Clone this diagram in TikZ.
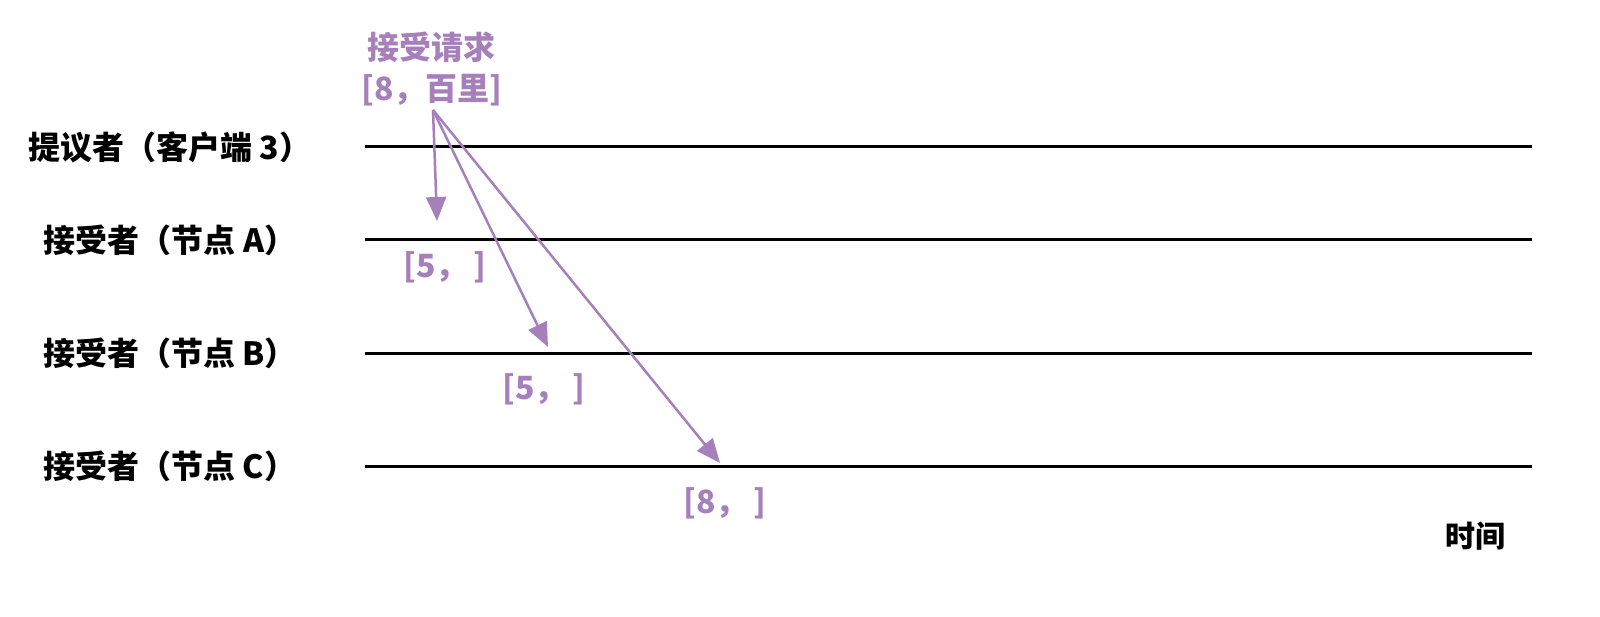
\documentclass[tikz,border=0pt]{standalone}
\usepackage{fontspec}
\setmainfont{Noto Sans CJK SC}
\usetikzlibrary{arrows.meta}
\definecolor{pur}{HTML}{A680BA}
\begin{document}
\begin{tikzpicture}[x=1pt,y=-1pt,
  lane/.style={line width=3pt,black},
  msg/.style={line width=2.5pt,pur,-{Triangle[length=24pt,width=20pt]}},
  who/.style={font=\fontsize{32}{35}\selectfont\bfseries,text=black,inner sep=0},
  tag/.style={font=\fontsize{32}{35}\selectfont\bfseries,text=pur,inner sep=0}]
\useasboundingbox (0,0) rectangle (1600,617);
\node[who] (lp) at (170,147) {提议者（客户端 3）};
\node[who] (la) at (170,240) {接受者（节点 A）};
\node[who] (lb) at (170,353) {接受者（节点 B）};
\node[who] (lc) at (170,466) {接受者（节点 C）};
\coordinate (p0) at (365,147); \coordinate (p1) at (1532,147);
\coordinate (a0) at (365,240); \coordinate (a1) at (1532,240);
\coordinate (b0) at (365,353); \coordinate (b1) at (1532,353);
\coordinate (c0) at (365,466); \coordinate (c1) at (1532,466);
\draw[lane] (p0) -- (p1);
\draw[lane] (a0) -- (a1);
\draw[lane] (b0) -- (b1);
\draw[lane] (c0) -- (c1);
\node[tag] (req) at (431,47) {接受请求};
\node[tag] (val) at (432,90) {[8，百里]};
\coordinate (src) at (433,110);
\coordinate (ta) at (437,221);
\coordinate (tb) at (548,347);
\coordinate (tc) at (720,463);
\draw[msg] (src) -- (ta);
\draw[msg] (src) -- (tb);
\draw[msg] (src) -- (tc);
\node[tag] (ra) at (445,267) {[5，\hspace{6pt}]};
\node[tag] (rb) at (544,389) {[5，\hspace{6pt}]};
\node[tag] (rc) at (725,503) {[8，\hspace{6pt}]};
\node[who,font=\fontsize{30}{33}\selectfont\bfseries] (time) at (1475,536) {时间};
\end{tikzpicture}
\end{document}
